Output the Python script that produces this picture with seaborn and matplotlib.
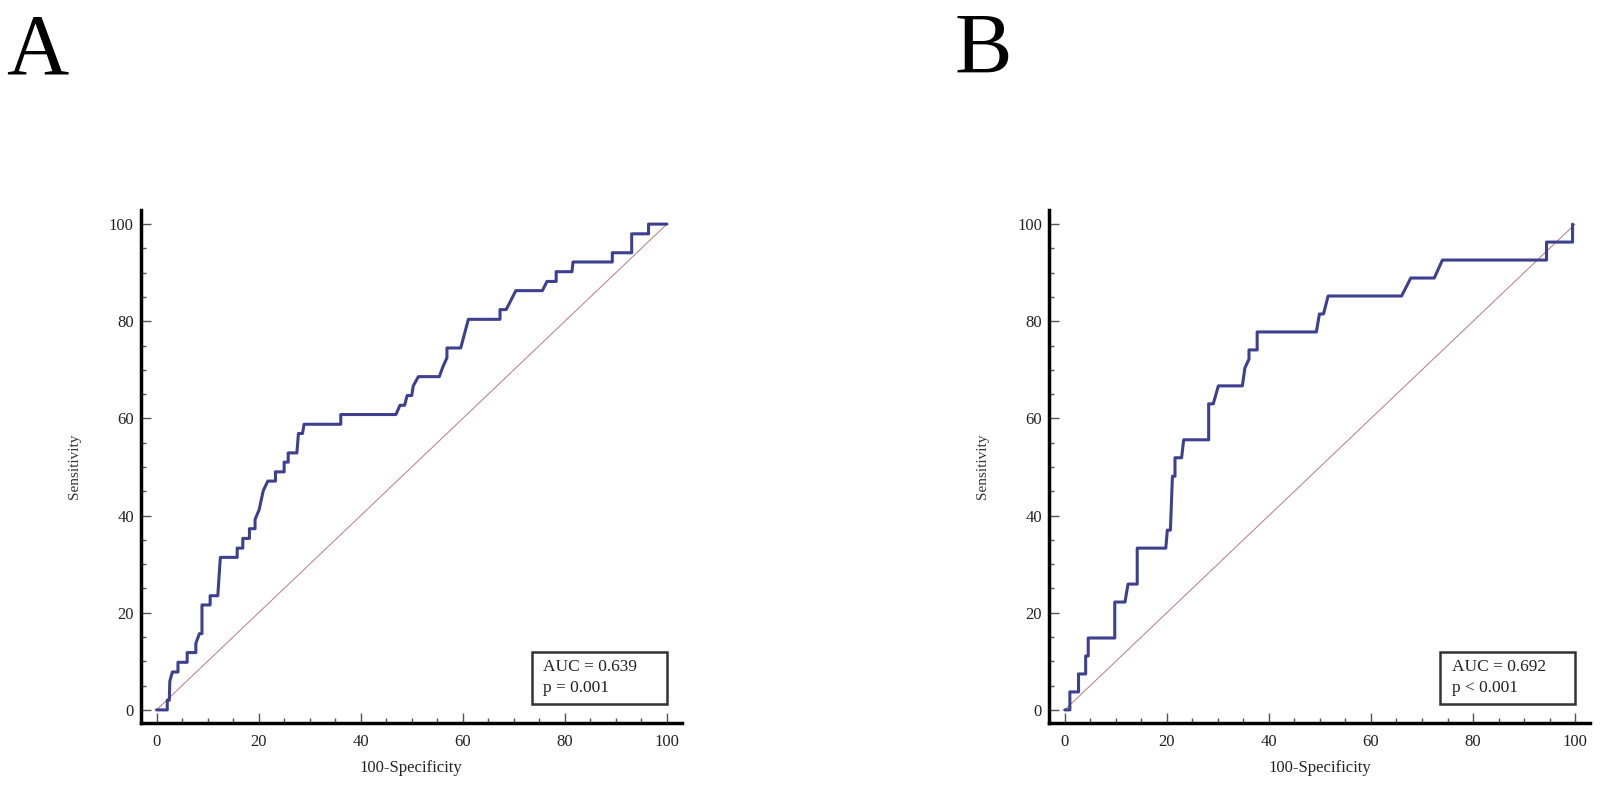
import numpy as np
import pandas as pd
import matplotlib
matplotlib.use('Agg')
import matplotlib.pyplot as plt
from matplotlib.patches import Rectangle
from matplotlib.ticker import MultipleLocator
import seaborn as sns

# ROC curve A (100-Specificity, Sensitivity) - corner points
roc_a_x = [0, 2.1, 2.1, 2.5, 2.6, 3.1, 4.2, 4.2, 6.0, 6.0, 7.7, 7.7, 8.4, 8.9, 8.9, 10.5, 10.5,
           12.0, 12.5, 15.8, 15.8, 16.9, 16.9, 18.2, 18.2, 19.3, 19.3, 20.1, 20.9, 21.8, 23.3,
           23.3, 25.0, 25.0, 25.8, 25.8, 27.5, 27.8, 28.6, 28.9, 36.1, 36.1, 46.9, 47.7, 48.6,
           49.1, 50.0, 50.3, 51.3, 55.4, 56.1, 56.9, 56.9, 59.6, 61.1, 67.3, 67.3, 68.5, 70.4,
           75.6, 76.5, 78.3, 78.3, 81.4, 81.6, 89.3, 89.3, 93.1, 93.1, 96.4, 96.4, 100]
roc_a_y = [0, 0, 2.0, 2.0, 5.9, 7.8, 7.8, 9.8, 9.8, 11.8, 11.8, 13.7, 15.7, 15.7, 21.6, 21.6, 23.5,
           23.5, 31.4, 31.4, 33.3, 33.3, 35.3, 35.3, 37.3, 37.3, 39.2, 41.2, 45.1, 47.1, 47.1,
           49.0, 49.0, 51.0, 51.0, 52.9, 52.9, 56.9, 56.9, 58.8, 58.8, 60.8, 60.8, 62.7, 62.7,
           64.7, 64.7, 66.7, 68.6, 68.6, 70.6, 72.5, 74.5, 74.5, 80.4, 80.4, 82.4, 82.4, 86.3,
           86.3, 88.2, 88.2, 90.2, 90.2, 92.2, 92.2, 94.1, 94.1, 98.0, 98.0, 100, 100]

# ROC curve B
roc_b_x = [0, 1.0, 1.0, 2.7, 2.7, 4.1, 4.1, 4.6, 4.6, 9.8, 9.8, 11.8, 12.4, 14.2, 14.2, 19.8, 20.1,
           20.7, 21.1, 21.6, 21.6, 22.9, 23.3, 28.2, 28.2, 29.1, 30.1, 34.8, 35.3, 36.1, 36.1,
           37.7, 37.7, 49.3, 49.9, 50.7, 51.6, 66.0, 67.8, 72.4, 74.0, 94.4, 94.4, 99.5, 99.5]
roc_b_y = [0, 0, 3.7, 3.7, 7.4, 7.4, 11.1, 11.1, 14.8, 14.8, 22.2, 22.2, 25.9, 25.9, 33.3, 33.3, 37.0,
           37.0, 48.1, 48.1, 51.9, 51.9, 55.6, 55.6, 63.0, 63.0, 66.7, 66.7, 70.4, 72.2, 74.1,
           74.1, 77.8, 77.8, 81.5, 81.5, 85.2, 85.2, 88.9, 88.9, 92.6, 92.6, 96.3, 96.3, 100]

panel_labels = ['A', 'B']
auc_text = ['AUC = 0.639', 'AUC = 0.692']
p_text = ['p = 0.001', 'p < 0.001']
ticks = [0, 20, 40, 60, 80, 100]

sns.set_style('ticks')
plt.rcParams['font.family'] = ['Liberation Serif', 'DejaVu Serif']

fig = plt.figure(figsize=(16.12, 7.94), dpi=100)
ax_a = fig.add_axes([0.0873, 0.0894, 0.3356, 0.6461])
ax_b = fig.add_axes([0.6507, 0.0894, 0.3356, 0.6461])

curves = [(roc_a_x, roc_a_y), (roc_b_x, roc_b_y)]

for i, ax in enumerate([ax_a, ax_b]):
    cx, cy = curves[i]
    df = pd.DataFrame({'x': cx, 'y': cy})
    # reference diagonal
    sns.lineplot(x=[0, 100], y=[0, 100], ax=ax, color='#b87a7a', linewidth=0.7)
    sns.lineplot(data=df, x='x', y='y', ax=ax, sort=False, estimator=None,
                 color='#3d3f8f', linewidth=2.2)

    ax.set_xlim(-3.1, 102.9)
    ax.set_ylim(-2.7, 102.9)
    ax.set_xticks(ticks)
    ax.set_yticks(ticks)
    ax.xaxis.set_minor_locator(MultipleLocator(5))
    ax.yaxis.set_minor_locator(MultipleLocator(5))
    ax.tick_params(which='major', direction='in', length=7.2, width=1, color='#555555',
                   labelsize=12, labelcolor='#222222')
    ax.tick_params(which='minor', direction='in', length=3.6, width=1, color='#555555')
    ax.tick_params(axis='x', pad=8)
    ax.tick_params(axis='y', pad=5)

    sns.despine(ax=ax)
    for s in ['left', 'bottom']:
        ax.spines[s].set_linewidth(2.5)
        ax.spines[s].set_color('black')

    ax.set_xlabel('100-Specificity', fontsize=12, color='#222222')
    ax.set_ylabel('Sensitivity', fontsize=11, color='#333333')
    ax.xaxis.set_label_coords(0.5, -0.072)
    ax.yaxis.set_label_coords(-0.11, 0.5)

    # AUC box
    ax.add_patch(Rectangle((73.6, 1.2), 26.4, 10.8, fill=False, edgecolor='#333333',
                           linewidth=1.8, zorder=5))
    ax.text(75.8, 8.9, auc_text[i], fontsize=12.5, va='center', ha='left', color='#222222')
    ax.text(75.8, 4.6, p_text[i], fontsize=12.5, va='center', ha='left', color='#222222')

fig.text(0.0037, 0.908, panel_labels[0], fontsize=62, va='baseline', ha='left', color='black')
fig.text(0.5924, 0.908, panel_labels[1], fontsize=62, va='baseline', ha='left', color='black')

fig.savefig('out.png', dpi=100)
